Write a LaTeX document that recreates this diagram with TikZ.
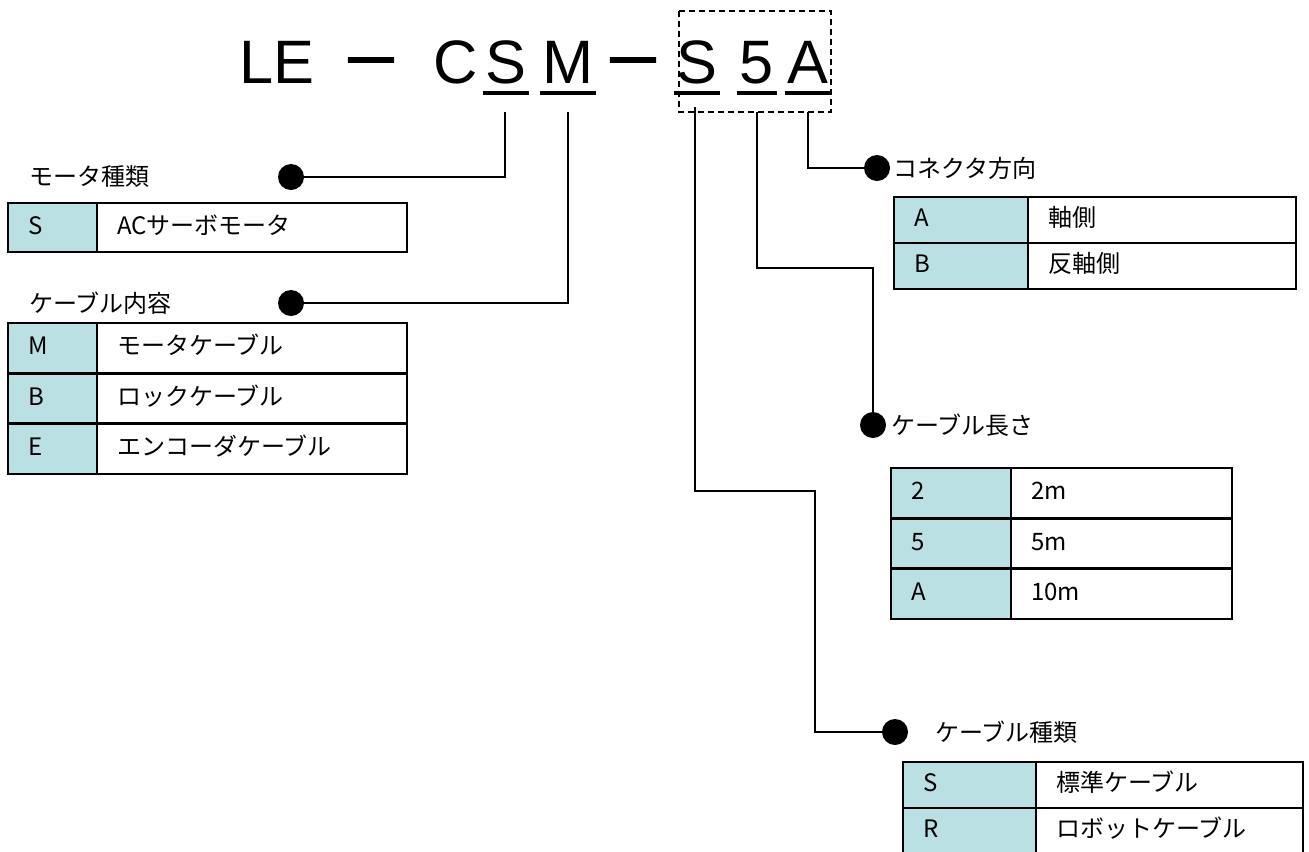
\documentclass[tikz,border=0pt]{standalone}
\usepackage{fontspec}
\setmainfont{Noto Sans CJK JP}
\newfontfamily\partfont{Liberation Sans}
\newfontfamily\dashfont[FakeBold=2.5]{Noto Sans CJK JP}
\definecolor{KeyTeal}{RGB}{186,224,227}
\usetikzlibrary{positioning, calc}

\begin{document}
\begin{tikzpicture}[x=0.75pt, y=-0.75pt,
        partchar/.style={anchor=base, inner ysep=0pt, inner xsep=2pt, font=\partfont\fontsize{46}{46}\selectfont},
        partdash/.style={partchar, font=\dashfont\fontsize{46}{46}\selectfont},
        uline/.style={line width=3pt},
        wire/.style={line width=1.6pt},
        dot/.style={circle, fill=black, inner sep=0pt, minimum size=19.5pt},
        heading/.style={anchor=west, inner sep=0pt, font=\fontsize{18}{18}\selectfont},
        cell/.style={draw, line width=2pt, outer sep=0pt, inner xsep=15pt, align=left, font=\fontsize{18}{18}\selectfont, text height=13pt, text depth=3pt},
        keycell/.style={cell, fill=KeyTeal, text width=#1},
        valcell/.style={cell, fill=white, text width=#1}
    ]
        \useasboundingbox (0,0) rectangle (1309,851);
        % part number
        \node[partchar] (pLE) at (277,83) {LE};
        \node[partdash] (pDashA) at (371,83) {－};
        \node[partchar] (pC) at (456,83) {C};
        \node[partchar] (pS) at (506,83) {S};
        \node[partchar] (pM) at (568,83) {M};
        \node[partdash] (pDashB) at (633,83) {－};
        \node[partchar] (pType) at (697,83) {S};
        \node[partchar] (pLen) at (757,83) {5};
        \node[partchar] (pDir) at (808,83) {A};
        \foreach \n in {pS, pM, pType, pLen, pDir}
            \draw[uline] ($(\n.base west)+(0,10)$) -- ($(\n.base east)+(0,10)$);
        \draw[line width=1.5pt, dash pattern=on 4.5pt off 3pt] (679,11) rectangle (831,112);

        % headings and dots
        \node[dot] (dMotor) at (291,177) {};
        \node[heading] (hMotor) at (29,177) {モータ種類};
        \node[dot] (dContent) at (291,303) {};
        \node[heading] (hContent) at (29,303) {ケーブル内容};
        \node[dot] (dDir) at (877,168) {};
        \node[heading] (hDir) at (893,168) {コネクタ方向};
        \node[dot] (dLen) at (873,425) {};
        \node[heading] (hLen) at (891,425) {ケーブル長さ};
        \node[dot] (dType) at (895,732) {};
        \node[heading] (hType) at (935,732) {ケーブル種類};

        % connectors
        \coordinate (tS) at (505,112);
        \coordinate (tM) at (568,112);
        \coordinate (tType) at (695,107);
        \coordinate (tLen) at (757,112);
        \coordinate (tDir) at (808,112);
        \coordinate (bType) at (815,491);
        \coordinate (bLen) at (873,268);
        \draw[wire] (tS) |- (dMotor);
        \draw[wire] (tM) |- (dContent);
        \draw[wire] (tDir) |- (dDir);
        \draw[wire] (tLen) |- (bLen) -- (dLen);
        \draw[wire] (tType) |- (bType) |- (dType);

        % motor type
        \node[keycell=36.75pt, minimum height=36.75pt, anchor=north west] (mS) at (8,203) {S};
        \node[valcell=202.5pt, minimum height=36.75pt, right=0pt of mS] (mSv) {ACサーボモータ};

        % cable content
        \node[keycell=36.75pt, minimum height=37.75pt, anchor=north west] (cM) at (8,323) {M};
        \node[valcell=202.5pt, minimum height=37.75pt, right=0pt of cM] (cMv) {モータケーブル};
        \node[keycell=36.75pt, minimum height=37.75pt, below=0pt of cM] (cB) {B};
        \node[valcell=202.5pt, minimum height=37.75pt, right=0pt of cB] (cBv) {ロックケーブル};
        \node[keycell=36.75pt, minimum height=37.75pt, below=0pt of cB] (cE) {E};
        \node[valcell=202.5pt, minimum height=37.75pt, right=0pt of cE] (cEv) {エンコーダケーブル};

        % connector direction
        \node[keycell=70.5pt, minimum height=34.5pt, anchor=north west] (dirA) at (894,197) {A};
        \node[valcell=171pt, minimum height=34.5pt, right=0pt of dirA] (dirAv) {軸側};
        \node[keycell=70.5pt, minimum height=34.5pt, below=0pt of dirA] (dirB) {B};
        \node[valcell=171pt, minimum height=34.5pt, right=0pt of dirB] (dirBv) {反軸側};

        % cable length
        \node[keycell=60pt, minimum height=37.75pt, anchor=north west] (lenTwo) at (891,468) {2};
        \node[valcell=135.75pt, minimum height=37.75pt, right=0pt of lenTwo] (lenTwov) {2m};
        \node[keycell=60pt, minimum height=37.75pt, below=0pt of lenTwo] (lenFive) {5};
        \node[valcell=135.75pt, minimum height=37.75pt, right=0pt of lenFive] (lenFivev) {5m};
        \node[keycell=60pt, minimum height=37.75pt, below=0pt of lenFive] (lenTen) {A};
        \node[valcell=135.75pt, minimum height=37.75pt, right=0pt of lenTen] (lenTenv) {10m};

        % cable type
        \node[keycell=69.75pt, minimum height=34.5pt, anchor=north west] (typS) at (903,762) {S};
        \node[valcell=170.25pt, minimum height=34.5pt, right=0pt of typS] (typSv) {標準ケーブル};
        \node[keycell=69.75pt, minimum height=34.5pt, below=0pt of typS] (typR) {R};
        \node[valcell=170.25pt, minimum height=34.5pt, right=0pt of typR] (typRv) {ロボットケーブル};
    \end{tikzpicture}
\end{document}
